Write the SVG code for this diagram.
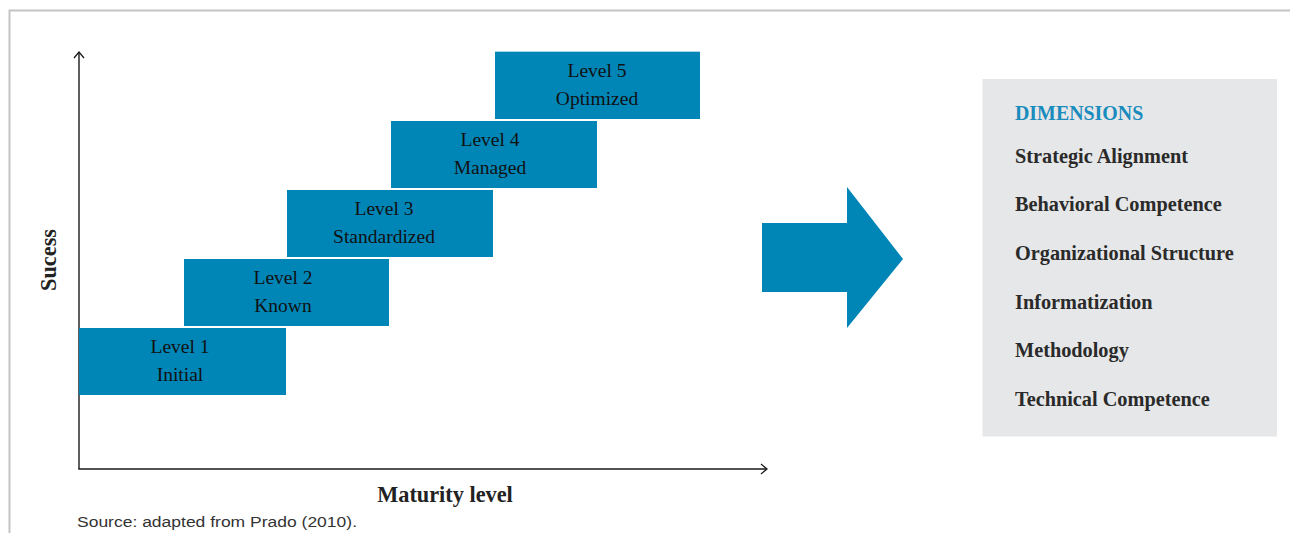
<svg xmlns="http://www.w3.org/2000/svg" width="1290" height="533" viewBox="0 0 1290 533">
<defs>
<style>
.frame{fill:none;stroke:#c4c4c4;stroke-width:2}
.axis{fill:none;stroke:#1a1a1a;stroke-width:1.4}
.lvl{fill:#0085b7}
.lt{font-family:"Liberation Serif","Times New Roman",serif;font-size:19.5px;fill:#111;text-anchor:middle}
.ax{font-family:"Liberation Serif","Times New Roman",serif;font-size:22.3px;font-weight:bold;fill:#222;text-anchor:middle}
.dim{font-family:"Liberation Serif","Times New Roman",serif;font-size:20.3px;font-weight:bold;fill:#2a2a2a}
.dimh{font-family:"Liberation Serif","Times New Roman",serif;font-size:19.9px;font-weight:bold;fill:#1a8bbd}
.src{font-family:"Liberation Sans",Arial,sans-serif;font-size:14px;fill:#333}
</style>
<marker id="open" markerWidth="12" markerHeight="12" refX="9" refY="6" orient="auto" markerUnits="userSpaceOnUse">
<path d="M3,1 L9,6 L3,11" fill="none" stroke="#1a1a1a" stroke-width="1.3"/>
</marker>
</defs>
<rect width="1290" height="533" fill="#ffffff"/>
<path class="frame" d="M9.5,533 V10.5 H1290"/>
<g id="connectors">
<line class="axis" x1="79" y1="469" x2="79" y2="52" marker-end="url(#open)"/>
<line class="axis" x1="78.3" y1="469" x2="767" y2="469" marker-end="url(#open)"/>
</g>
<g id="level1">
<rect class="lvl" x="79" y="328" width="207" height="67"/>
<text class="lt" x="180" y="353">Level 1</text>
<text class="lt" x="180" y="381">Initial</text>
</g>
<g id="level2">
<rect class="lvl" x="184" y="259" width="205" height="67"/>
<text class="lt" x="283" y="284">Level 2</text>
<text class="lt" x="283" y="312">Known</text>
</g>
<g id="level3">
<rect class="lvl" x="287" y="190" width="206" height="67"/>
<text class="lt" x="384" y="215">Level 3</text>
<text class="lt" x="384" y="243">Standardized</text>
</g>
<g id="level4">
<rect class="lvl" x="391" y="121" width="206" height="67"/>
<text class="lt" x="490" y="146">Level 4</text>
<text class="lt" x="490" y="174">Managed</text>
</g>
<g id="level5">
<rect class="lvl" x="495" y="52" width="205" height="67"/>
<line x1="495" y1="51.5" x2="700" y2="51.5" stroke="#a9d6ea" stroke-width="1"/>
<text class="lt" x="597" y="77">Level 5</text>
<text class="lt" x="597" y="105">Optimized</text>
</g>
<g id="yLabel">
<text class="ax" transform="translate(56,260) rotate(-90)">Sucess</text>
</g>
<g id="xLabel">
<text class="ax" x="445" y="502">Maturity level</text>
</g>
<g id="bigArrow">
<path d="M762,223 H847 V187 L903,259 L847,328 V292 H762 Z" fill="#0085b7"/>
</g>
<g id="dimensions">
<rect x="982.5" y="79" width="294.5" height="357.5" fill="#e6e7e8"/>
<text class="dimh" x="1015" y="120">DIMENSIONS</text>
<text class="dim" x="1015" y="163">Strategic Alignment</text>
<text class="dim" x="1015" y="211">Behavioral Competence</text>
<text class="dim" x="1015" y="260">Organizational Structure</text>
<text class="dim" x="1015" y="309">Informatization</text>
<text class="dim" x="1015" y="357">Methodology</text>
<text class="dim" x="1015" y="406">Technical Competence</text>
</g>
<g id="source">
<text class="src" x="77" y="527" textLength="280" lengthAdjust="spacingAndGlyphs">Source: adapted from Prado (2010).</text>
</g>
</svg>
